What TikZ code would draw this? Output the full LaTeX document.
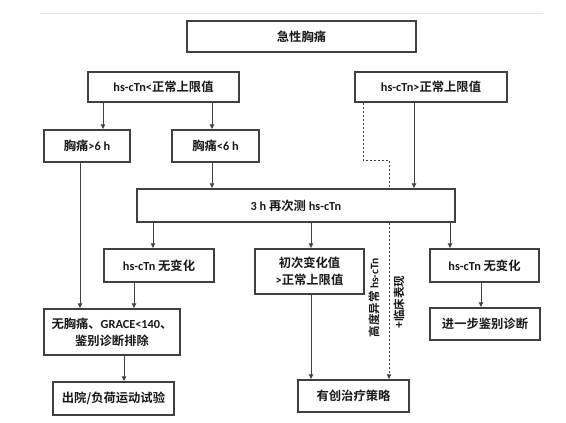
\documentclass[tikz,border=0pt]{standalone}
\usepackage{fontspec}
\setmainfont{Noto Sans CJK SC}[BoldFont={* Bold}]
\newfontfamily\lat{Carlito}
\newcommand\en[1]{{\lat #1}}
\usetikzlibrary{arrows.meta}
\begin{document}
\begin{tikzpicture}[x=1pt,y=-1pt,
  box/.style={draw=black!75,line width=1.2pt,fill=white,inner sep=0pt,align=center,
    font=\bfseries\fontsize{12.3}{17}\selectfont,text=black!90},
  arr/.style={draw=black!75,line width=0.9pt,-{Latex[length=5pt,width=5pt]}},
  dsh/.style={draw=black!75,line width=0.9pt,dash pattern=on 2.5pt off 1.5pt},
  lbl/.style={inner sep=0pt,font=\bfseries\fontsize{11.5}{12}\selectfont,text=black!90}]
\useasboundingbox (0,0) rectangle (566,423);
\fill[white] (0,0) rectangle (566,423);
\draw[black!10,line width=0.8pt] (40,13) -- (543,13);
% boxes
\node[box,minimum width=229pt,minimum height=31pt] (top) at (301.5,36.5) {急性胸痛};
\node[box,minimum width=151pt,minimum height=30pt] (lt) at (163.5,87) {\en{hs-cTn<}正常上限值};
\node[box,minimum width=152pt,minimum height=30pt] (rt) at (431,87) {\en{hs-cTn>}正常上限值};
\node[box,minimum width=86pt,minimum height=32pt] (pa) at (87,146) {胸痛\en{>6 h}};
\node[box,minimum width=87pt,minimum height=32pt] (pb) at (215.5,146) {胸痛\en{<6 h}};
\node[box,minimum width=318pt,minimum height=33pt] (re) at (296,205.5) {\en{3 h} 再次测 \en{hs-cTn}};
\node[box,minimum width=110pt,minimum height=33pt] (nc1) at (159,265.5) {\en{hs-cTn} 无变化};
\node[box,minimum width=109pt,minimum height=45pt] (chg) at (309.5,271.5) {初次变化值\\\en{>}正常上限值};
\node[box,minimum width=109pt,minimum height=33pt] (nc2) at (484.5,265.5) {\en{hs-cTn} 无变化};
\node[box,minimum width=136pt,minimum height=46pt] (ncp) at (112,332) {无胸痛、\en{GRACE<140}、\\鉴别诊断排除};
\node[box,minimum width=110pt,minimum height=32pt] (fur) at (485,324) {进一步鉴别诊断};
\node[box,minimum width=121pt,minimum height=33pt] (dis) at (113.5,398.5) {出院/负荷运动试验};
\node[box,minimum width=111pt,minimum height=32pt] (inv) at (353.5,396) {有创治疗策略};
% x positions of connectors
\coordinate (xa) at (103,0);
\coordinate (xb) at (212,0);
\coordinate (xc) at (80,0);
\coordinate (xd) at (414,0);
\coordinate (xe) at (153,0);
\coordinate (xf) at (311,0);
\coordinate (xg) at (450,0);
\coordinate (xh) at (134,0);
\coordinate (xi) at (481,0);
\coordinate (xj) at (124,0);
\coordinate (d1) at (363,160);
\coordinate (d2) at (389,160);
% connectors
\draw[arr] (lt.south -| xa) -- (pa.north -| xa);
\draw[arr] (lt.south -| xb) -- (pb.north -| xb);
\draw[arr] (pb.south -| xb) -- (re.north -| xb);
\draw[arr] (pa.south -| xc) -- (ncp.north -| xc);
\draw[arr] (rt.south -| xd) -- (re.north -| xd);
\draw[arr] (re.south -| xe) -- (nc1.north -| xe);
\draw[arr] (re.south -| xf) -- (chg.north -| xf);
\draw[arr] (re.south -| xg) -- (nc2.north -| xg);
\draw[arr] (nc1.south -| xh) -- (ncp.north -| xh);
\draw[arr] (chg.south -| xf) -- (inv.north -| xf);
\draw[arr] (nc2.south -| xi) -- (fur.north -| xi);
\draw[arr] (ncp.south -| xj) -- (dis.north -| xj);
\draw[dsh] (rt.south -| d1) -- (d1) -- (d2) -- (re.north -| d2);
\draw[dsh,-{Latex[length=5pt,width=5pt]}] (re.south -| d2) -- (inv.north -| d2);
% labels
\node[lbl,rotate=90] (l1) at (374,298) {高度异常 \en{hs-cTn}};
\node[lbl,rotate=90] (l2) at (399,302) {+临床表现};
\end{tikzpicture}
\end{document}
